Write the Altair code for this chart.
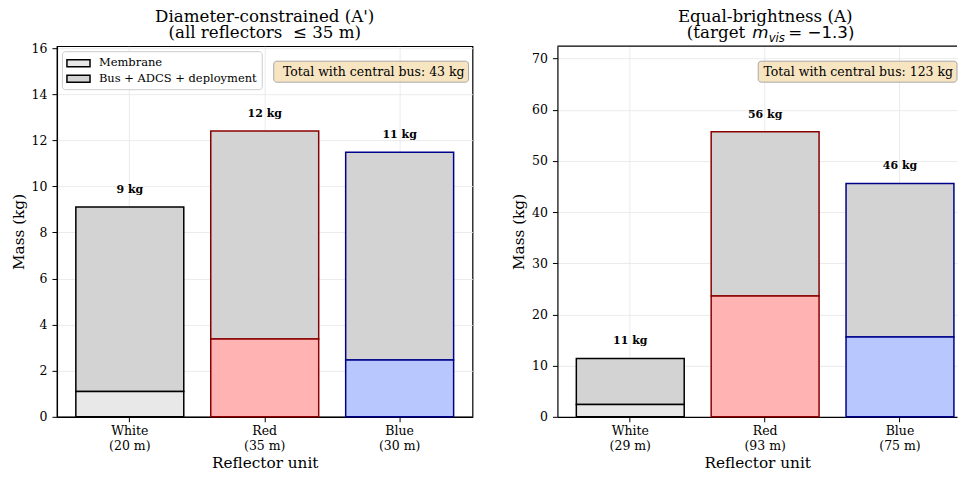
import altair as alt
import pandas as pd

# ---------------- data ----------------
units = ["White", "Red", "Blue"]
diam_left = ["(20 m)", "(35 m)", "(30 m)"]
membrane_left = [1.1, 3.38, 2.46]
total_left = [9.1, 12.4, 11.48]
diam_right = ["(29 m)", "(93 m)", "(75 m)"]
membrane_right = [2.4, 23.6, 15.6]
total_right = [11.4, 55.7, 45.6]
edge_colors = ["#000000", "#8b0000", "#00008b"]
membrane_fills = ["#e8e8e8", "#ffb3b3", "#b8c8ff"]
bus_fill = "#d3d3d3"
legend_names = ["Membrane", "Bus + ADCS + deployment"]
legend_fills = ["#e8e8e8", "#d3d3d3"]
yticks_left = [0, 2, 4, 6, 8, 10, 12, 14, 16]
yticks_right = [0, 10, 20, 30, 40, 50, 60, 70]
ymax_left = 16.08
ymax_right = 72.4
title_left = ["Diameter-constrained (A')", "(all reflectors\u00a0 \u2264 35 m)"]
title_right_1 = "Equal-brightness (A)"
math_parts = ["(target", "m", "vis", "= \u22121.3)"]
note_left = "Total with central bus: 43 kg"
note_right = "Total with central bus: 123 kg"
x_title = "Reflector unit"
y_title = "Mass (kg)"

SERIF = "DejaVu Serif"
SANS = "DejaVu Sans"
H = 371
W_L = 416
W_R = 400
TITLE_FS = 16.7
L1_Y = -24
L2_Y = -8


def one(text):
    return alt.Chart(pd.DataFrame({"t": [text]}))


def panel(diams, membrane, total, ymax, yticks, note, note_w, width, xscale,
          with_legend):
    df = pd.DataFrame({
        "unit": [f"{u}|{d}" for u, d in zip(units, diams)],
        "membrane": membrane,
        "total": total,
        "edge": edge_colors,
        "mfill": membrane_fills,
        "label": [f"{t:.0f} kg" for t in total],
    })
    x = alt.X("unit:N", sort=None, title=x_title, scale=xscale,
              axis=alt.Axis(labelExpr="split(datum.label, '|')", labelAngle=0,
                            bandPosition=0.5, grid=True, labelPadding=3,
                            titlePadding=3))
    yscale = alt.Scale(domain=[0, ymax], nice=False, zero=True)
    yaxis = alt.Axis(values=yticks, title=y_title, grid=True, labelPadding=5,
                     titlePadding=5)
    base = alt.Chart(df)
    bus = base.mark_bar(strokeWidth=1.5, fill=bus_fill).encode(
        x=x,
        y=alt.Y("total:Q", scale=yscale, axis=yaxis),
        y2="membrane:Q",
        stroke=alt.Stroke("edge:N", scale=None),
    )
    mem = base.mark_bar(strokeWidth=1.5).encode(
        x=x,
        y=alt.Y("membrane:Q", scale=yscale, axis=yaxis),
        fill=alt.Fill("mfill:N", scale=None),
        stroke=alt.Stroke("edge:N", scale=None),
    )
    lab = base.mark_text(font=SERIF, fontWeight="bold", fontSize=11,
                         baseline="alphabetic", dy=-14, color="black").encode(
        x=x, y=alt.Y("total:Q", scale=yscale, axis=yaxis), text="label:N")
    x_right = min(width, 412)
    box = one(note).mark_rect(fill="#f5deb3", fillOpacity=0.8, stroke="#a8a8a8",
                              strokeWidth=1, cornerRadius=3).encode(
        x=alt.value(x_right - note_w), x2=alt.value(x_right),
        y=alt.value(15), y2=alt.value(36))
    ntext = one(note).mark_text(font=SERIF, fontSize=12.5, align="right",
                                baseline="middle", color="black").encode(
        x=alt.value(x_right - 4), y=alt.value(25.5), text="t:N")
    layers = [bus, mem, lab, box, ntext]
    if with_legend:
        leg = alt.Chart(pd.DataFrame({"name": legend_names})).mark_point(
            filled=True, opacity=0).encode(
            x=alt.value(0), y=alt.value(0),
            fill=alt.Fill("name:N", sort=None,
                          scale=alt.Scale(domain=legend_names, range=legend_fills),
                          legend=alt.Legend(
                              title=None, orient="top-left", offset=5,
                              symbolType="M-1,-0.5H2.3V0.5H-1Z", symbolSize=196,
                              symbolStrokeColor="black", symbolStrokeWidth=1.5,
                              symbolOpacity=1, labelFont=SERIF, labelFontSize=11.5,
                              labelColor="black", labelOffset=17, rowPadding=0.5,
                              padding=4, fillColor="white", strokeColor="#cccccc",
                              cornerRadius=3)))
        layers.append(leg)
    return layers


left_layers = panel(diam_left, membrane_left, total_left, ymax_left, yticks_left,
                    note_left, 195, W_L,
                    alt.Scale(paddingInner=0.2, paddingOuter=0.14), True)
left_layers += [
    one(title_left[0]).mark_text(font=SERIF, fontSize=TITLE_FS, baseline="alphabetic",
                                 color="black").encode(
        x=alt.value(W_L / 2), y=alt.value(L1_Y), text="t:N"),
    one(title_left[1]).mark_text(font=SERIF, fontSize=TITLE_FS, baseline="alphabetic",
                                 color="black").encode(
        x=alt.value(W_L / 2), y=alt.value(L2_Y), text="t:N"),
]
left = alt.layer(*left_layers).properties(width=W_L, height=H)

right_layers = panel(diam_right, membrane_right, total_right, ymax_right, yticks_right,
                     note_right, 199, W_R,
                     alt.Scale(paddingInner=0.2, paddingOuter=0.0815, align=0.86),
                     False)
right_layers += [
    alt.Chart(pd.DataFrame({"t": ["spine"]})).mark_rule(
        color="black", strokeWidth=1.2).encode(
        x=alt.value(0), x2=alt.value(W_R), y=alt.value(0)),
    one(title_right_1).mark_text(font=SERIF, fontSize=TITLE_FS, baseline="alphabetic",
                                 color="black").encode(
        x=alt.value(208), y=alt.value(L1_Y), text="t:N"),
    one(math_parts[0]).mark_text(font=SERIF, fontSize=TITLE_FS, baseline="alphabetic",
                                 align="right", color="black").encode(
        x=alt.value(188), y=alt.value(L2_Y), text="t:N"),
    one(math_parts[1]).mark_text(font=SANS, fontStyle="italic", fontSize=TITLE_FS,
                                 baseline="alphabetic", align="left",
                                 color="black").encode(
        x=alt.value(195), y=alt.value(L2_Y), text="t:N"),
    one(math_parts[2]).mark_text(font=SANS, fontStyle="italic", fontSize=11.7,
                                 baseline="alphabetic", align="left",
                                 color="black").encode(
        x=alt.value(211.5), y=alt.value(L2_Y + 3.5), text="t:N"),
    one(math_parts[3]).mark_text(font=SANS, fontSize=TITLE_FS, baseline="alphabetic",
                                 align="left", color="black").encode(
        x=alt.value(231), y=alt.value(L2_Y), text="t:N"),
]
right = alt.layer(*right_layers).properties(
    width=W_R, height=H, view=alt.ViewBackground(stroke="transparent"))

chart = alt.hconcat(left, right, spacing=37).resolve_scale(
    fill="independent", stroke="independent"
).properties(
    padding={"left": 2, "top": 0, "right": 0, "bottom": 0}
).configure_view(
    stroke="black", strokeWidth=1.2
).configure_axis(
    labelFont=SERIF, labelFontSize=12.5, labelColor="black",
    tickSize=5, tickColor="black", tickWidth=1, domainColor="black", domainWidth=1.2,
    titleFont=SERIF, titleFontSize=15.3, titleFontWeight="normal", titleColor="black",
    gridColor="#e6e6e6", gridWidth=0.8, labelLineHeight=15,
)

chart.save("out.html", embed_options={"renderer": "svg", "actions": False})
